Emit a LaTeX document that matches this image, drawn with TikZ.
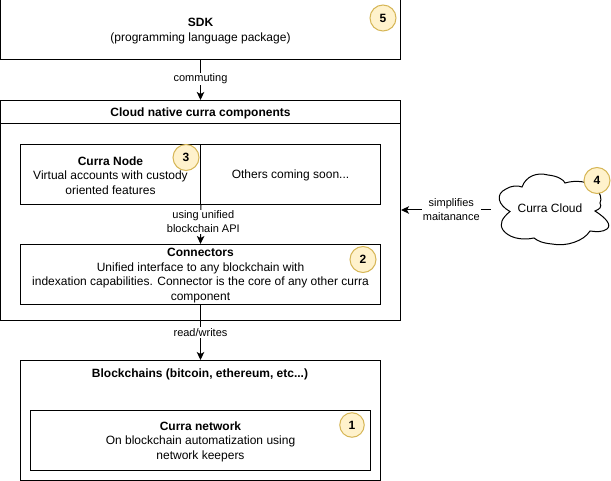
\documentclass[tikz,border=0pt]{standalone}
\usepackage{fontspec}
\setmainfont{Liberation Sans}
\usetikzlibrary{arrows.meta,calc}
\definecolor{badgefill}{HTML}{FFF2CC}
\definecolor{badgeline}{HTML}{D6B656}
\tikzset{
  box/.style={draw=black,line width=1pt,fill=white,rectangle,inner sep=0pt},
  flow/.style={line width=1pt,-{Stealth[length=8pt,width=7.5pt,inset=2pt]}},
  edgelabel/.style={fill=white,inner sep=1pt,align=center,font=\fontsize{11}{14}\selectfont},
  plain/.style={inner sep=0pt,align=center,font=\fontsize{12}{14.5}\selectfont},
  inbox/.style={plain,yshift=-1pt},
  badge/.style={circle,draw=badgeline,fill=badgefill,line width=1pt,inner sep=0pt,minimum size=26pt,font=\fontsize{12}{14}\bfseries\selectfont}
}
\begin{document}
\begin{tikzpicture}[x=1pt,y=-1pt]
\useasboundingbox (0,0) rectangle (611,481);
\node[box,minimum width=400pt,minimum height=60pt] (sdk) at (200.5,30) {};
\node[inbox] (sdktext) at (sdk) {\textbf{SDK}\\(programming language package)};
\node[box,minimum width=400pt,minimum height=220pt] (cloudnative) at (200.5,210.5) {};
\node[box,minimum width=400pt,minimum height=23pt] (header) at (200.5,112) {};
\node[inbox] (headertext) at (header) {\textbf{Cloud native curra components}};
\node[box,minimum width=180pt,minimum height=60pt] (node) at (110.5,174.5) {};
\node[inbox] (nodetext) at (node) {\textbf{Curra Node}\\Virtual accounts with custody\\oriented features};
\node[box,minimum width=180pt,minimum height=60pt] (others) at (290.5,174.5) {};
\node[inbox] (otherstext) at (others) {Others coming soon...};
\node[box,minimum width=360pt,minimum height=60pt] (conn) at (200.5,274.5) {};
\node[inbox] (conntext) at (conn) {\textbf{Connectors}\\Unified interface to any blockchain with\\indexation capabilities. Connector is the core of any other curra\\component};
\node[box,minimum width=360pt,minimum height=120pt] (chains) at (200.5,420.5) {};
\node[plain] (chainstitle) at (200,374.7) {\textbf{Blockchains (bitcoin, ethereum, etc...)}};
\node[box,minimum width=340pt,minimum height=60pt] (network) at (200.5,440.5) {};
\node[inbox] (networktext) at (network) {\textbf{Curra network}\\On blockchain automatization using\\network keepers};

% cloud
\draw[line width=1pt,fill=white]
  (510,211.5) .. controls (498,205) and (495,194) .. (506,189)
  .. controls (510,186) and (518,185) .. (522,187)
  .. controls (526,176) and (537,172) .. (548,175)
  .. controls (558,176) and (564,180) .. (565,183)
  .. controls (575,180) and (588,181) .. (594,187)
  .. controls (601,193) and (602,199) .. (600,203)
  .. controls (602,207) and (600,209) .. (595,211)
  .. controls (606,218) and (612,225) .. (607,229)
  .. controls (603,232) and (597,232) .. (590,231)
  .. controls (584,241) and (566,247) .. (552,244)
  .. controls (542,243) and (538,241) .. (534,238)
  .. controls (520,241) and (508,237) .. (503,230)
  .. controls (499,224) and (502,218) .. (510,211.5) -- cycle;
\node[minimum width=120pt,minimum height=80pt,inner sep=0pt] (cloudbox) at (551,210) {};
\node[plain] (cloudtext) at (550,208) {Curra Cloud};

% connectors
\draw[flow] (sdk.south) -- node[edgelabel,pos=0.47] (l1) {commuting} (header.north);
\draw[flow] (node.south east) -- node[edgelabel,pos=0.43,xshift=2.5pt] (l2) {using unified\\blockchain API} (conn.north);
\draw[flow] (conn.south) -- node[edgelabel,pos=0.5] (l3) {read/writes} (chains.north);
\draw[flow] (cloudbox.west) -- node[edgelabel,pos=0.44] (l4) {simplifies\\maitanance} (cloudnative.east |- cloudbox.west);

% badges
\node[badge] (b5) at (383,18) {5};
\node[badge] (b3) at (186,157.5) {3};
\node[badge] (b2) at (363,259.5) {2};
\node[badge,minimum size=24.5pt] (b1) at (352,425) {1};
\node[badge] (b4) at (597,180.5) {4};
\end{tikzpicture}
\end{document}
